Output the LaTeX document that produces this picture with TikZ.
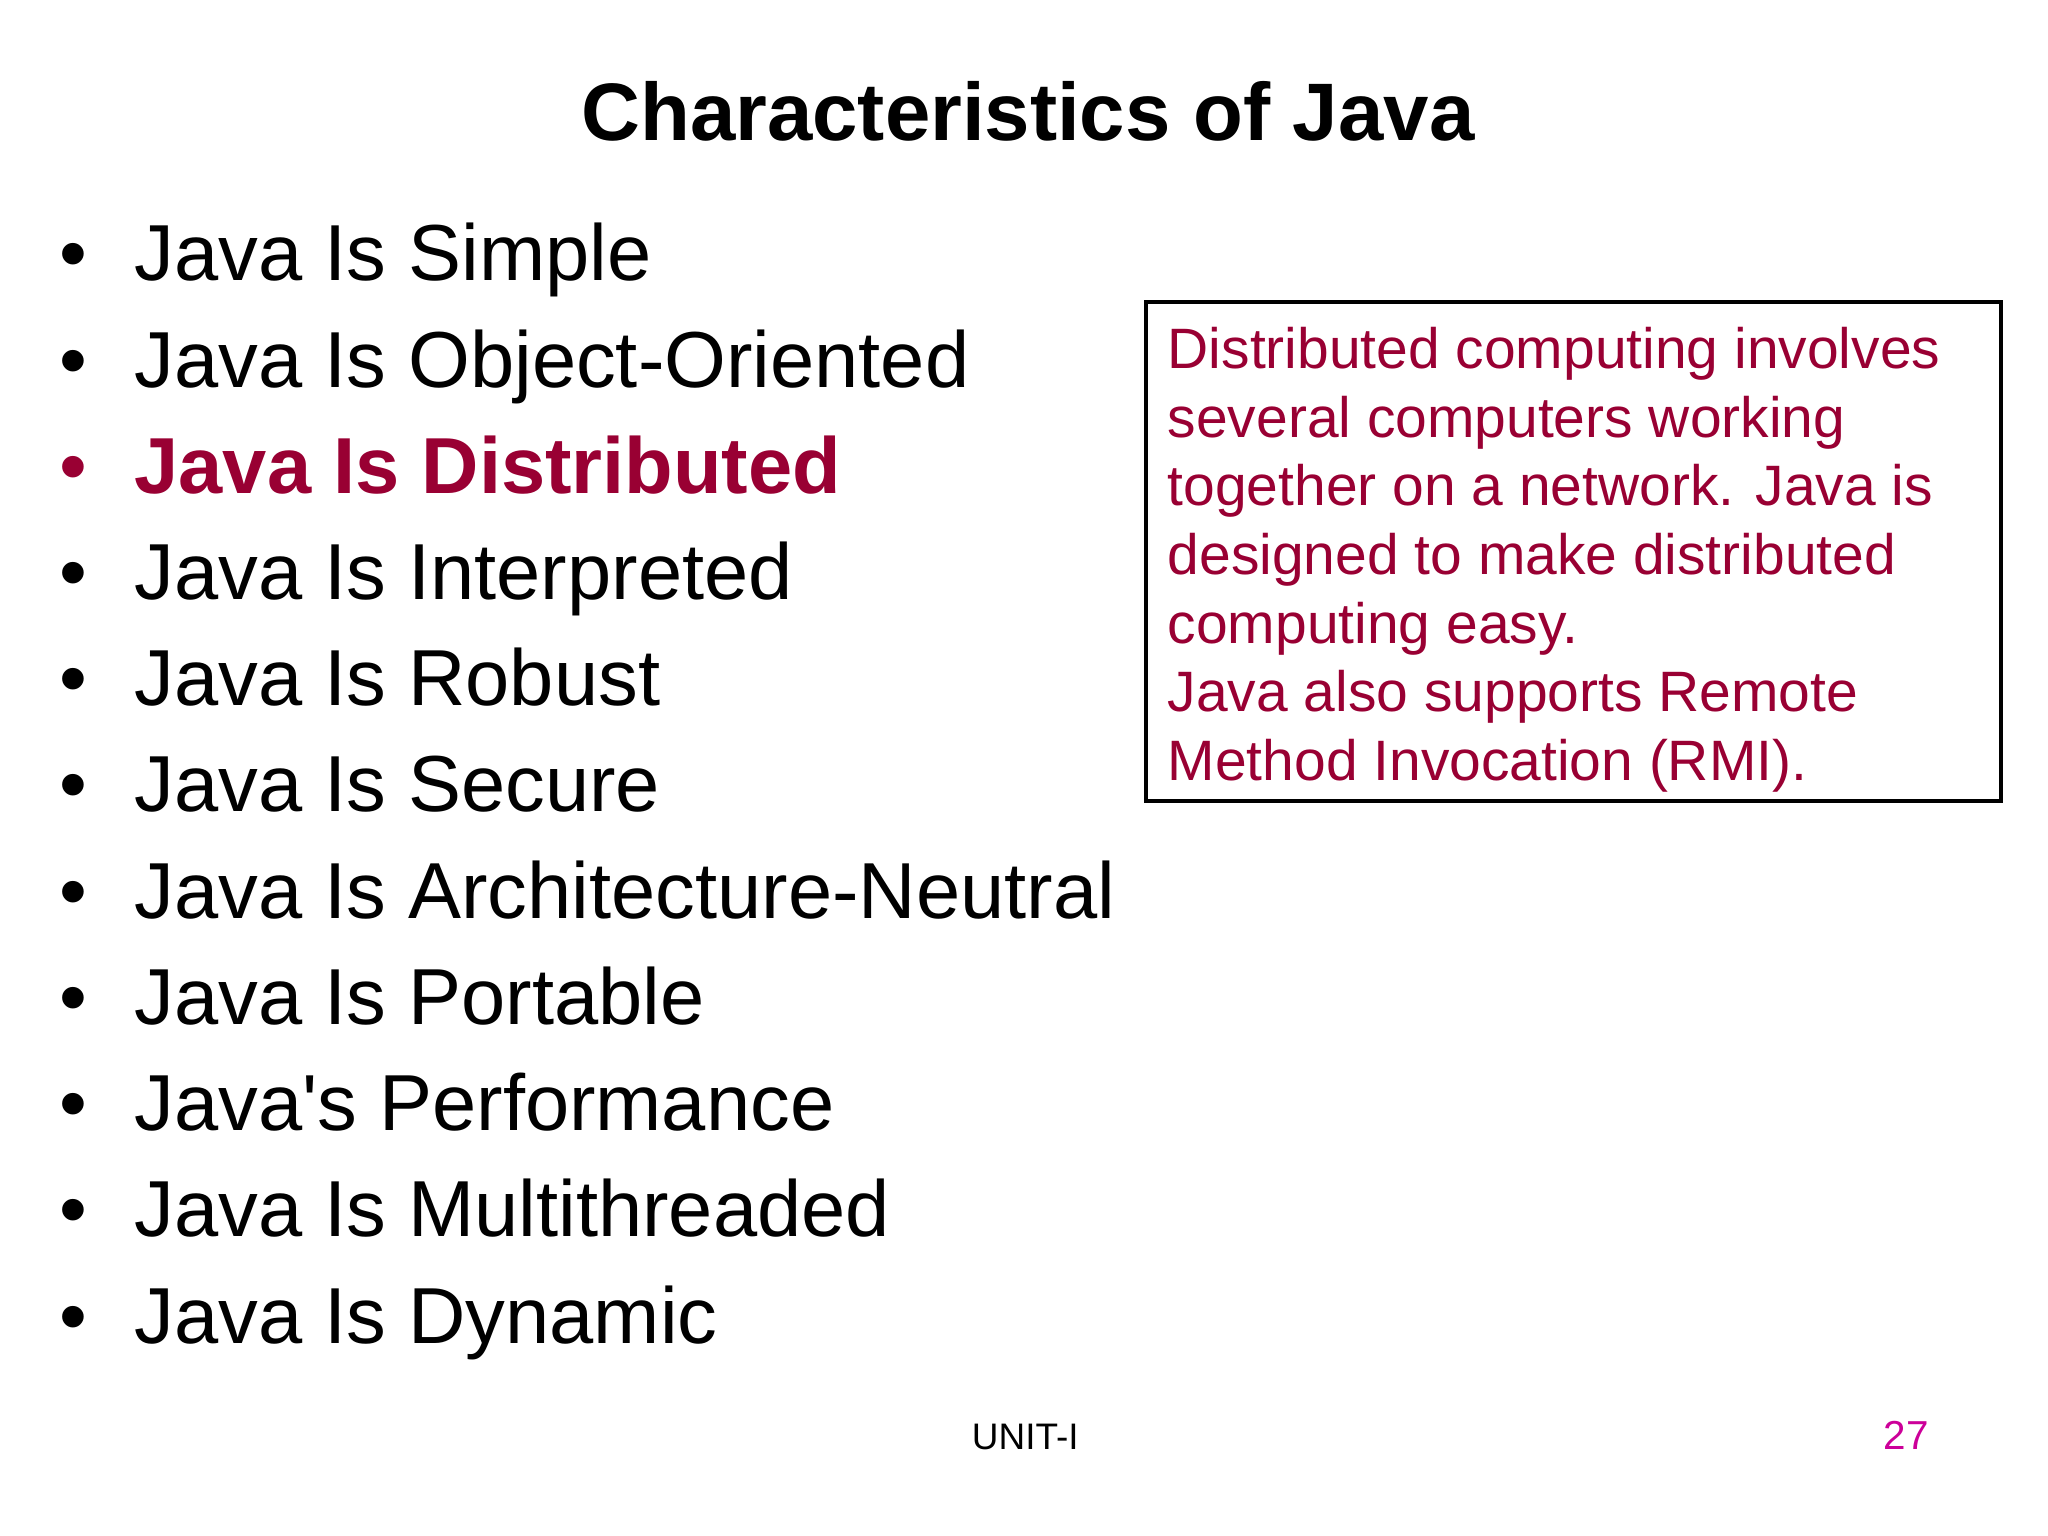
\documentclass[tikz,border=0pt]{standalone}
\usepackage{fontspec}
\setmainfont{Liberation Sans}
\definecolor{javared}{HTML}{990033}
\definecolor{pagenum}{HTML}{CC0099}
\tikzset{
  item/.style={anchor=base west, inner sep=0pt, font=\fontsize{22.6pt}{27pt}\selectfont},
  dot/.style={anchor=base, inner sep=0pt, font=\fontsize{22.6pt}{27pt}\selectfont},
  boxline/.style={anchor=base west, inner sep=0pt, text=javared, font=\fontsize{16.2pt}{19pt}\selectfont},
  foot/.style={anchor=base, inner sep=0pt, font=\fontsize{10.5pt}{12pt}\selectfont}
}
\begin{document}
\begin{tikzpicture}[x=0.013128cm, y=-0.013128cm]
  \useasboundingbox (0,0) rectangle (1560,1170);

  %Title
  \node (title) [anchor=base, inner sep=0pt, font=\fontsize{23.2pt}{28pt}\selectfont\bfseries] at (783,107) {Characteristics of Java};

  %Bullet list
  \foreach \txt [count=\i from 0] in {Java Is Simple, Java Is Object-Oriented, Java Is Distributed,
      Java Is Interpreted, Java Is Robust, Java Is Secure, Java Is Architecture-Neutral,
      Java Is Portable, Java\textquotesingle s Performance, Java Is Multithreaded, Java Is Dynamic}{
    \ifnum\i=2
      \node (b\i) [dot, text=javared] at (56,{214+80.9*\i}) {•};
      \node (t\i) [item, text=javared, font=\fontsize{22.6pt}{27pt}\selectfont\bfseries] at (102,{214+80.9*\i}) {\txt};
    \else
      \node (b\i) [dot] at (56,{214+80.9*\i}) {•};
      \node (t\i) [item] at (102,{214+80.9*\i}) {\txt};
    \fi
  }

  %Explanation box
  \draw [line width=1.2pt] (873,230) rectangle (1524,610);
  \foreach \txt [count=\i from 0] in {Distributed computing involves, several computers working,
      together on a network. Java is, designed to make distributed, computing easy.,
      Java also supports Remote, Method Invocation (RMI).}{
    \node (d\i) [boxline] at (889,{281+52.2*\i}) {\txt};
  }

  %Footer
  \node (unit) [foot] at (781,1104) {UNIT-I};
  \node (page) [foot, text=pagenum, font=\fontsize{11.5pt}{13pt}\selectfont] at (1452,1104) {27};
\end{tikzpicture}
\end{document}
